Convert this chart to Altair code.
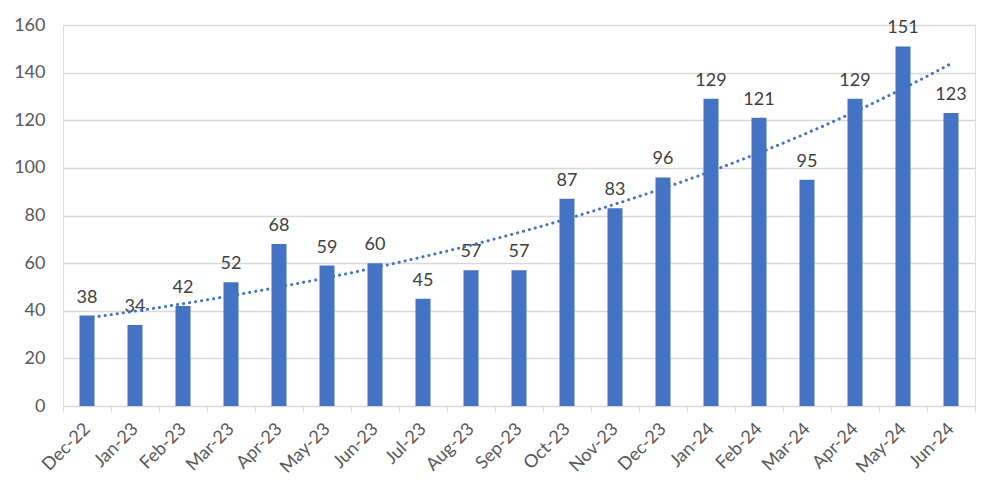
import altair as alt
import pandas as pd

months = ["Dec-22", "Jan-23", "Feb-23", "Mar-23", "Apr-23", "May-23", "Jun-23", "Jul-23",
          "Aug-23", "Sep-23", "Oct-23", "Nov-23", "Dec-23", "Jan-24", "Feb-24", "Mar-24",
          "Apr-24", "May-24", "Jun-24"]
values = [38, 34, 42, 52, 68, 59, 60, 45, 57, 57, 87, 83, 96, 129, 121, 95, 129, 151, 123]

df = pd.DataFrame({"month": months, "value": values, "idx": list(range(len(months)))})

FONT = "Lato"
BLUE = "#4472C4"

base = alt.Chart(df)

xband = alt.X("month:N", sort=months, title=None,
              scale=alt.Scale(paddingInner=0, paddingOuter=0),
              axis=alt.Axis(labelAngle=-45, labelAlign="right", labelBaseline="middle",
                            labelFont=FONT, labelFontSize=18, labelColor="#595959",
                            labelPadding=14, tickBand="extent", tickSize=6,
                            tickColor="#d9d9d9", domainColor="#d9d9d9", grid=False))
yq = alt.Y("value:Q", title=None,
           scale=alt.Scale(domain=[0, 160], nice=False),
           axis=alt.Axis(values=list(range(0, 161, 20)), labelFont=FONT, labelFontSize=18,
                         labelColor="#595959", labelPadding=18, domain=False, ticks=False,
                         gridColor="#d9d9d9", gridWidth=1.3))

bars = base.mark_bar(color=BLUE, size=15).encode(x=xband, y=yq)
labels = base.mark_text(font=FONT, fontSize=18, color="#404040", dy=-18).encode(
    x=alt.X("month:N", sort=months), y=alt.Y("value:Q"), text="value:Q")

# Excel-style exponential trendline: least squares on ln(value)
trend = base.transform_calculate(
    ly="log(datum.value)"
).transform_joinaggregate(
    mx="mean(idx)", my="mean(ly)"
).transform_calculate(
    sxy="(datum.idx - datum.mx) * (datum.ly - datum.my)",
    sxx="(datum.idx - datum.mx) * (datum.idx - datum.mx)"
).transform_joinaggregate(
    Sxy="sum(sxy)", Sxx="sum(sxx)"
).transform_calculate(
    fit="exp(datum.my + (datum.Sxy / datum.Sxx) * (datum.idx - datum.mx))"
).mark_line(
    color=BLUE, strokeWidth=3, strokeDash=[0.1, 6], strokeCap="round", interpolate="monotone").encode(
    x=alt.X("idx:Q", scale=alt.Scale(domain=[-0.5, 18.5], nice=False, zero=False), axis=None),
    y=alt.Y("fit:Q"))

band_layer = alt.layer(bars, labels)
chart = alt.layer(band_layer, trend).resolve_scale(x="independent").properties(
    width=912, height=381,
    autosize=alt.AutoSizeParams(type="none"),
    padding={"left": 55, "top": 17, "right": 17, "bottom": 70},
).configure_view(stroke=None).configure(background="white")

chart.save("out.html", embed_options={"renderer": "svg", "actions": False})
